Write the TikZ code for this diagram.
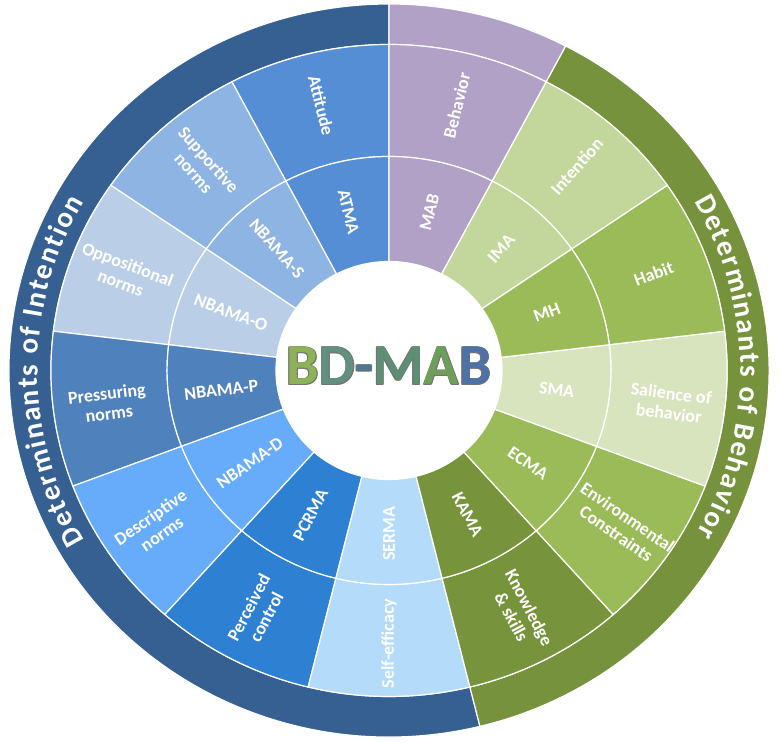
\documentclass[tikz,border=0pt]{standalone}
\usepackage{fontspec}
\setmainfont{Carlito}
\usetikzlibrary{decorations.text}
\definecolor{bandblue}{HTML}{365F92}
\definecolor{bandgreen}{HTML}{76923C}
\definecolor{cpurple}{HTML}{B2A1C7}
\definecolor{cA}{HTML}{558ED5}
\definecolor{cS}{HTML}{8EB4E3}
\definecolor{cO}{HTML}{BACEE7}
\definecolor{cP}{HTML}{4F81BD}
\definecolor{cD}{HTML}{66ACFA}
\definecolor{cPC}{HTML}{2E80D2}
\definecolor{cSE}{HTML}{B5DBFB}
\definecolor{cK}{HTML}{77933C}
\definecolor{cE}{HTML}{9BBB59}
\definecolor{cSa}{HTML}{D7E4BD}
\definecolor{cH}{HTML}{9BBB59}
\definecolor{cI}{HTML}{C3D69B}
\definecolor{cB}{HTML}{B2A1C7}
\definecolor{bdA}{HTML}{8DB356}
\definecolor{bdB}{HTML}{62907F}
\definecolor{bdC}{HTML}{4E7A90}
\definecolor{bdD}{HTML}{5E8E74}
\definecolor{bdE}{HTML}{6E9F5A}
\definecolor{bdF}{HTML}{4E72A8}
\newcommand\lblfont{\fontsize{18}{20}\selectfont\bfseries}
\newcommand\bandfont{\fontsize{29}{30}\selectfont\bfseries}
\newcommand\bdfont{\fontsize{58}{60}\selectfont\bfseries}
\begin{document}
\begin{tikzpicture}[x=1pt,y=1pt,
  seg/.style={draw=white, line width=1.2pt},
  lbl/.style={text=white, font=\lblfont, align=center, inner sep=0pt},
  bandtext/.style={decorate, decoration={text along path, text={|\bandfont|#1}, text align=fit to path, text color=white}}]
\useasboundingbox (0,0) rectangle (781,743);
\begin{scope}[shift={(389,372.5)}, xscale=1.037]
  \def\ra{109}\def\rb{214}\def\rc{326}\def\rd{366.5}
  \pgfmathsetmacro\da{360/13}
  \pgfmathsetmacro\gb{90+7*\da}
  \pgfmathsetmacro\gp{90-\da}
  \pgfmathsetmacro\gq{\gp+360}
  \filldraw[seg, fill=bandblue] (90:\rc) arc[start angle=90, end angle=\gb, radius=\rc] -- (\gb:\rd) arc[start angle=\gb, end angle=90, radius=\rd] -- cycle;
  \filldraw[seg, fill=bandgreen] (\gb:\rc) arc[start angle=\gb, end angle=\gq, radius=\rc] -- (\gq:\rd) arc[start angle=\gq, end angle=\gb, radius=\rd] -- cycle;
  \filldraw[seg, fill=cpurple] (\gp:\rc) arc[start angle=\gp, end angle=90, radius=\rc] -- (90:\rd) arc[start angle=90, end angle=\gp, radius=\rd] -- cycle;
  \foreach \i/\co/\tout/\tin in {
      0/cA/{Attitude}/{ATMA},
      1/cS/{Supportive\\norms}/{NBAMA-S},
      2/cO/{Oppositional\\norms}/{NBAMA-O},
      3/cP/{Pressuring\\norms}/{NBAMA-P},
      4/cD/{Descriptive\\norms}/{NBAMA-D},
      5/cPC/{Perceived\\control}/{PCRMA},
      6/cSE/{Self-efficacy}/{SERMA},
      7/cK/{Knowledge\\\& skills}/{KAMA},
      8/cE/{Environmental\\Constraints}/{ECMA},
      9/cSa/{Salience of\\behavior}/{SMA},
      10/cH/{Habit}/{MH},
      11/cI/{Intention}/{IMA},
      12/cB/{Behavior}/{MAB}} {
    \pgfmathsetmacro\aa{90+\i*\da}
    \pgfmathsetmacro\ab{90+(\i+1)*\da}
    \pgfmathsetmacro\am{90+(\i+0.5)*\da}
    \pgfmathsetmacro\rot{\i<7 ? \am-180 : \am-360}
    \filldraw[seg, fill=\co] (\aa:\rb) arc[start angle=\aa, end angle=\ab, radius=\rb] -- (\ab:\rc) arc[start angle=\ab, end angle=\aa, radius=\rc] -- cycle;
    \filldraw[seg, fill=\co] (\aa:\ra) arc[start angle=\aa, end angle=\ab, radius=\ra] -- (\ab:\rb) arc[start angle=\ab, end angle=\aa, radius=\rb] -- cycle;
    \node[lbl, rotate=\rot] (out\i) at (\am:273) {\tout};
    \node[lbl, rotate=\rot] (in\i) at (\am:163) {\tin};
  }
  \fill[white] (0,0) circle[radius=\ra];
\end{scope}
\path[shift={(389,372.5)}, bandtext={Determinants of Intention}] (210:351.5 and 339) arc[start angle=210, end angle=150.2, x radius=351.5, y radius=339];
\path[shift={(389,372.5)}, bandtext={Determinants of Behavior}] (29.8:351.5 and 339) arc[start angle=29.8, end angle=-28.8, x radius=351.5, y radius=339];
\foreach \k in {45,135,225,315} {
  \begin{scope}[shift={(\k:0.9)}]
    \node[font=\bdfont, text=black!55, anchor=base, inner sep=0pt] (bdo\k) at (389,358) {BD-MAB};
  \end{scope}
}
\node[font=\bdfont, anchor=base, inner sep=0pt] (bd) at (389,358) {\color{bdA}B\color{bdB}D\color{bdC}-\color{bdD}M\color{bdE}A\color{bdF}B};
\end{tikzpicture}
\end{document}
